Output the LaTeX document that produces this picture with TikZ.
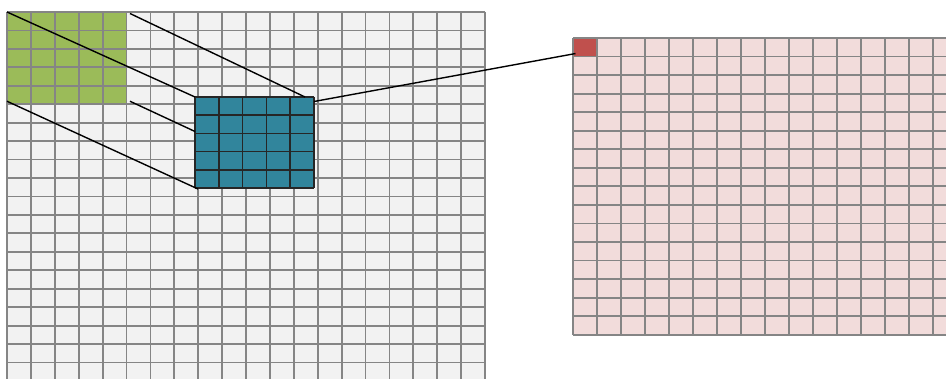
\documentclass[tikz,border=0pt]{standalone}
\usetikzlibrary{calc}
\definecolor{cellgray}{HTML}{F2F2F2}
\definecolor{gridgray}{HTML}{858585}
\definecolor{patchgreen}{HTML}{9BBB59}
\definecolor{kernelteal}{HTML}{31859C}
\definecolor{outpink}{HTML}{F2DCDB}
\definecolor{outred}{HTML}{C0504D}
\definecolor{darkline}{HTML}{262626}
\begin{document}
\begin{tikzpicture}[x=1pt,y=-1pt,
  gridline/.style={draw=gridgray,line width=1.8pt},
  kernelline/.style={draw=darkline,line width=1.6pt},
  link/.style={draw=black,line width=1.4pt},
  block/.style={draw=none,inner sep=0pt,outer sep=0pt,anchor=north west}]
\useasboundingbox (0,0) rectangle (946,379);
\clip (0,0) rectangle (946,379);

% input feature map: 20 x 20 cells
\def\iw{23.9}\def\ih{18.45}
\fill[cellgray] (7,12) rectangle ++({20*\iw},{20*\ih});
\node[block,fill=patchgreen,minimum width={5*\iw pt},minimum height={5*\ih pt}] (patch) at (7,12) {};
\foreach \i in {0,...,20} \draw[gridline] ({7+\i*\iw},12) -- ++(0,{20*\ih});
\foreach \j in {0,...,20} \draw[gridline] (7,{12+\j*\ih}) -- ++({20*\iw},0);

% output feature map: 16 x 16 cells
\def\ow{24}\def\oh{18.55}
\fill[outpink] (573,38) rectangle ++({16*\ow},{16*\oh});
\node[block,fill=outred,minimum width={\ow pt},minimum height={\oh pt}] (outcell) at (573,38) {};
\foreach \i in {0,...,16} \draw[gridline] ({573+\i*\ow},38) -- ++(0,{16*\oh});
\foreach \j in {0,...,16} \draw[gridline] (573,{38+\j*\oh}) -- ++({16*\ow},0);

% 5 x 5 kernel
\def\kw{23.8}\def\kh{18.2}
\node[block,fill=kernelteal,minimum width={5*\kw pt},minimum height={5*\kh pt}] (kernel) at (195,97) {};
\foreach \i in {0,...,5} \draw[kernelline] ($(kernel.north west)+({\i*\kw},0)$) -- ++(0,{5*\kh});
\foreach \j in {0,...,5} \draw[kernelline] ($(kernel.north west)+(0,{\j*\kh})$) -- ++({5*\kw},0);

% projection lines
\draw[link] (patch.north west) -- (kernel.north west);
\draw[link] ($(patch.north east)+(3.5,1.5)$) -- ($(kernel.north east)+(-9,0)$);
\draw[link] ($(patch.south east)+(3.5,-3)$) -- ($(kernel.north west)+(0,34.5)$);
\draw[link] ($(patch.south west)+(0,-3)$) -- ($(kernel.south west)+(3,1)$);
\draw[link] ($(kernel.north east)+(0,4.5)$) -- ($(outcell.south west)+(2.5,-3)$);
\end{tikzpicture}
\end{document}
